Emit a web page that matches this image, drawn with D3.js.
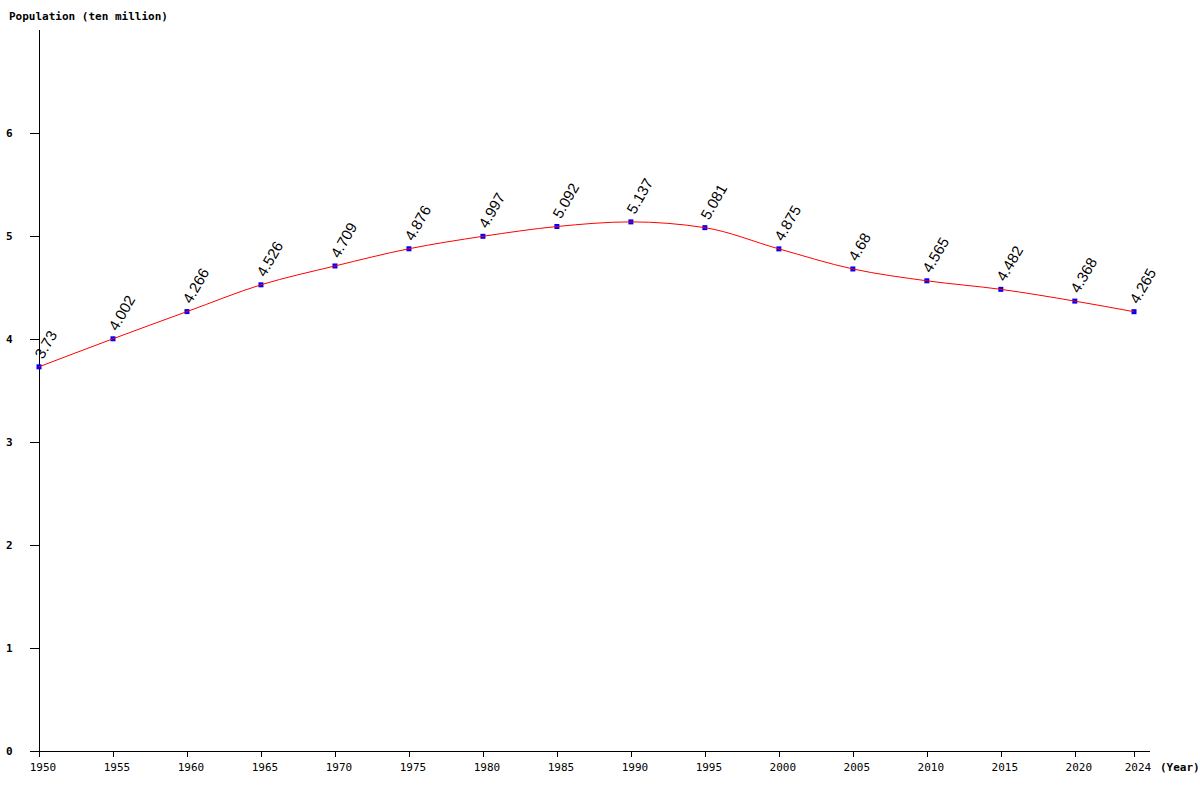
<!DOCTYPE html>
<html>
<head>
<meta charset="utf-8">
<script src="https://cdn.jsdelivr.net/npm/d3@7"></script>
<style>
  body { margin: 0; background: #fff; }
  svg { display: block; }
</style>
</head>
<body>
<svg id="chart" width="1200" height="800"></svg>
<script>
// 数据：年份与人口（千万）
const years = [1950, 1955, 1960, 1965, 1970, 1975, 1980, 1985, 1990, 1995, 2000, 2005, 2010, 2015, 2020, 2024];
const population = [3.73, 4.002, 4.266, 4.526, 4.709, 4.876, 4.997, 5.092, 5.137, 5.081, 4.875, 4.68, 4.565, 4.482, 4.368, 4.265];
const yTicks = [0, 1, 2, 3, 4, 5, 6];

const svg = d3.select("#chart");
const points = years.map((y, i) => ({ year: y, value: population[i] }));

// 比例尺
const x = d3.scaleLinear().domain([1950, 2024]).range([39, 1134]);
const y = d3.scaleLinear().domain([0, 7]).range([751, 30]);

// 坐标轴线
svg.append("line")
  .attr("x1", 39.5).attr("x2", 39.5)
  .attr("y1", 30).attr("y2", 751)
  .attr("stroke", "#000");
svg.append("line")
  .attr("x1", 30).attr("x2", 1150)
  .attr("y1", 751.5).attr("y2", 751.5)
  .attr("stroke", "#000");

// Y 轴刻度
const yt = svg.append("g").selectAll("g").data(yTicks).enter().append("g");
yt.append("line")
  .attr("x1", 30).attr("x2", 39)
  .attr("y1", (d) => Math.round(y(d)) + 0.5)
  .attr("y2", (d) => Math.round(y(d)) + 0.5)
  .attr("stroke", "#000");
yt.append("text")
  .attr("x", 6)
  .attr("y", (d) => y(d) + 4)
  .text((d) => d)
  .style("font-family", "DejaVu Sans Mono, monospace")
  .style("font-size", "11px")
  .style("font-weight", "bold");

// X 轴刻度
const xt = svg.append("g").selectAll("g").data(years).enter().append("g");
xt.append("line")
  .attr("x1", (d) => Math.round(x(d)) + 0.5)
  .attr("x2", (d) => Math.round(x(d)) + 0.5)
  .attr("y1", 751).attr("y2", 757)
  .attr("stroke", "#000");
xt.append("text")
  .attr("x", (d) => x(d) + 4)
  .attr("y", 771)
  .attr("text-anchor", "middle")
  .text((d) => d)
  .style("font-family", "DejaVu Sans Mono, monospace")
  .style("font-size", "11px")
  .style("font-weight", "normal");

// 轴标题
svg.append("text")
  .attr("x", 9).attr("y", 20)
  .text("Population (ten million)")
  .style("font-family", "DejaVu Sans Mono, monospace")
  .style("font-size", "11px")
  .style("font-weight", "bold");
svg.append("text")
  .attr("x", 1160).attr("y", 771)
  .text("(Year)")
  .style("font-family", "DejaVu Sans Mono, monospace")
  .style("font-size", "11px")
  .style("font-weight", "bold");

// 曲线
const line = d3.line()
  .x((d) => x(d.year))
  .y((d) => y(d.value))
  .curve(d3.curveMonotoneX);

// 数据点
svg.append("g").selectAll("rect").data(points).enter().append("rect")
  .attr("x", (d) => x(d.year) - 2.5)
  .attr("y", (d) => y(d.value) - 2.5)
  .attr("width", 5).attr("height", 5)
  .attr("fill", "#0000ff");

svg.append("path")
  .datum(points)
  .attr("d", line)
  .attr("fill", "none")
  .attr("stroke", "#ff0000")
  .attr("stroke-width", 1);

// 数值标签（旋转）
svg.append("g").selectAll("text").data(points).enter().append("text")
  .attr("transform", (d) => `translate(${x(d.year) + 4},${y(d.value) - 7}) rotate(-60)`)
  .text((d) => d.value)
  .style("font-family", "Liberation Sans, Arial, sans-serif")
  .style("font-size", "15px")
  .style("fill", "#000");
</script>
</body>
</html>
